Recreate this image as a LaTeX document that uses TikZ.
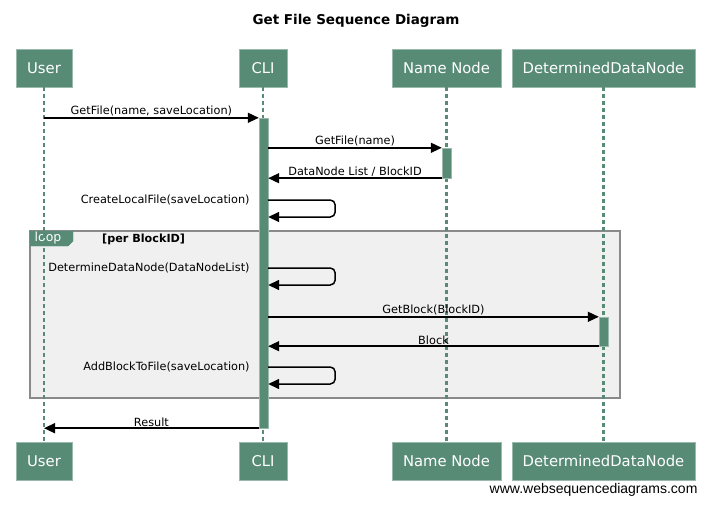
\documentclass[tikz,border=0pt]{standalone}
\usepackage{fontspec}
\setmainfont{DejaVu Sans}
\newfontfamily\webfont{Liberation Sans}
\usetikzlibrary{arrows.meta}
\definecolor{wsdgreen}{HTML}{578B76}
\definecolor{loopgray}{HTML}{F0F0F0}
\definecolor{framegray}{HTML}{8A8A8A}
\tikzset{
  actor/.style={fill=wsdgreen, draw=wsdgreen!60!white, text=white, font=\fontsize{14.8}{17}\selectfont, minimum height=38pt, inner sep=0pt},
  lifeline/.style={wsdgreen, line width=2.5pt, dash pattern=on 4pt off 3pt},
  activation/.style={fill=wsdgreen, draw=wsdgreen!60!white, minimum width=9pt, inner sep=0pt},
  msg/.style={-{Triangle[length=11pt,width=10pt]}, line width=1.5pt},
  lbl/.style={font=\fontsize{11.3}{13}\selectfont, inner sep=1pt},
}
\begin{document}
\begin{tikzpicture}[x=1pt,y=-1pt]
\useasboundingbox (0,0) rectangle (711,505);
\node[font=\bfseries\fontsize{13.5}{16}\selectfont] (title) at (356,21) {Get File Sequence Diagram};

\draw[fill=loopgray, draw=framegray, line width=1.5pt] (30,231) rectangle (620,398);
\draw[fill=wsdgreen, draw=wsdgreen] (30,231) -- (73,231) -- (73,241) -- (68,246) -- (30,246) -- cycle;
\node[text=white, lbl, font=\fontsize{12.5}{14}\selectfont] (looptag) at (48,238.5) {loop};
\node[lbl, font=\bfseries\fontsize{11.2}{13}\selectfont, anchor=west] (loopcond) at (101,239.5) {[per BlockID]};

\foreach \n/\t/\x/\w in {user/User/44/56, cli/CLI/263/48, nn/Name Node/446.5/109, ddn/DeterminedDataNode/603.5/183} {
  \node[actor, minimum width=\w pt] (\n) at (\x,68) {\t};
  \node[actor, minimum width=\w pt] (\n-b) at (\x,461) {\t};
  \draw[lifeline] (\n) -- (\n-b);
}

\node[activation, minimum height=310pt] (cliact) at (263.5,273) {};
\node[activation, minimum height=30pt] (nnact) at (446.5,163) {};
\node[activation, minimum height=29pt] (ddnact) at (603.5,331.5) {};

\draw[msg] (user |- cliact.north) -- node[lbl, above] (m1) {GetFile(name, saveLocation)} (cliact.north west);
\draw[msg] (cliact.east |- nnact.north) -- node[lbl, above] (m2) {GetFile(name)} (nnact.north west);
\draw[msg] (nnact.south west) -- node[lbl, above] (m3) {DataNode List / BlockID} (cliact.east |- nnact.south);
\draw[msg] (cliact.east |- ddnact.north) -- node[lbl, above] (m4) {GetBlock(BlockID)} (ddnact.north west);
\draw[msg] (ddnact.south west) -- node[lbl, above] (m5) {Block} (cliact.east |- ddnact.south);
\draw[msg] (cliact.south west) -- node[lbl, above] (m6) {Result} (user |- cliact.south);

\foreach \y/\t in {200/CreateLocalFile(saveLocation), 268/DetermineDataNode(DataNodeList), 367/AddBlockToFile(saveLocation)} {
  \coordinate (self\y) at (cliact.east |- 0,\y);
  \draw[msg, rounded corners=5pt] (self\y) -- ++(67,0) -- ++(0,17) -- ++(-67,0);
  \node[lbl, anchor=east] (call\y) at ([xshift=-8pt]cliact.west |- self\y) {\t};
}

\node[font=\webfont\fontsize{14}{16}\selectfont, anchor=east] (credit) at (701,490) {www.websequencediagrams.com};
\end{tikzpicture}
\end{document}
